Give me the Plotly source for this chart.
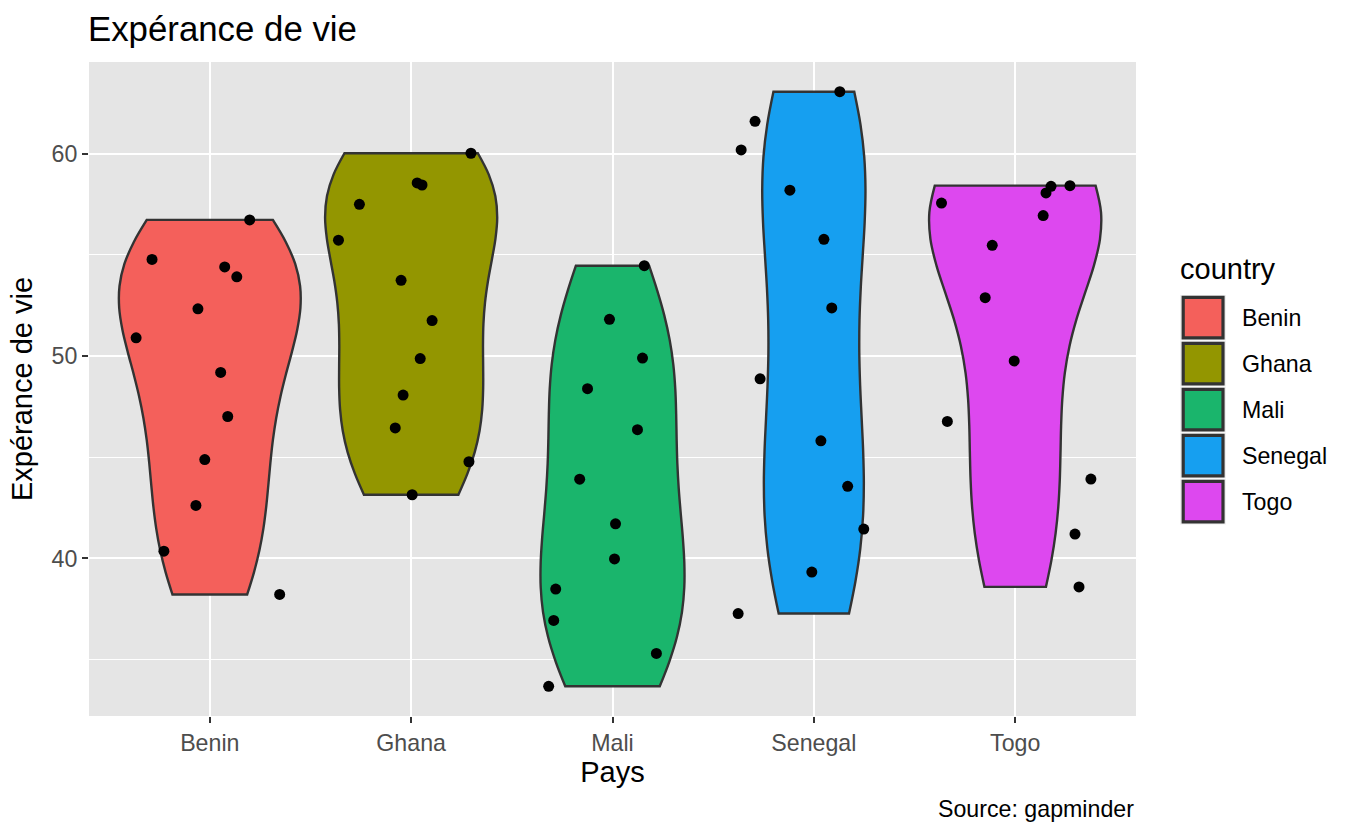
import numpy as np
import plotly.graph_objects as go

# ---------------- data (gapminder, life expectancy 1952-2007) ----------------
countries = ["Benin", "Ghana", "Mali", "Senegal", "Togo"]
years = [1952, 1957, 1962, 1967, 1972, 1977, 1982, 1987, 1992, 1997, 2002, 2007]

life_benin = [38.223, 40.358, 42.618, 44.885, 47.014, 49.190, 50.904, 52.337, 53.919, 54.777, 54.406, 56.728]
life_ghana = [43.149, 44.779, 46.452, 48.072, 49.875, 51.756, 53.744, 55.729, 57.501, 58.556, 58.453, 60.022]
life_mali = [33.685, 35.307, 36.936, 38.487, 39.977, 41.714, 43.916, 46.364, 48.388, 49.903, 51.818, 54.467]
life_senegal = [37.278, 39.329, 41.454, 43.563, 45.815, 48.879, 52.379, 55.769, 58.196, 60.187, 61.600, 63.062]
life_togo = [38.596, 41.208, 43.922, 46.769, 49.759, 52.887, 55.471, 56.941, 58.061, 58.390, 57.561, 58.420]

# horizontal jitter of each point (in category units)
jit_benin = [0.347, -0.228, -0.069, -0.025, 0.089, 0.054, -0.366, -0.059, 0.134, -0.287, 0.074, 0.198]
jit_ghana = [0.005, 0.287, -0.079, -0.040, 0.045, 0.104, -0.050, -0.361, -0.257, 0.030, 0.054, 0.297]
jit_mali = [-0.317, 0.218, -0.292, -0.282, 0.010, 0.015, -0.163, 0.124, -0.124, 0.149, -0.015, 0.158]
jit_senegal = [-0.376, -0.010, 0.248, 0.168, 0.035, -0.267, 0.089, 0.050, -0.119, -0.361, -0.292, 0.129]
jit_togo = [0.317, 0.297, 0.376, -0.337, -0.005, -0.149, -0.114, 0.139, 0.153, 0.178, -0.366, 0.272]

fill_colors = ["#F4605B", "#939600", "#1AB56C", "#169FF0", "#DD48EF"]

y_ticks = [40, 50, 60]
y_minor = [35, 45, 55]

title_text = "Expérance de vie"
x_title = "Pays"
y_title = "Expérance de vie"
legend_title = "country"
caption = "Source: gapminder"

# ---------------- layout geometry (pixels) ----------------
FIG_W, FIG_H = 1356, 838
PL, PR, PT, PB = 89, 1136, 62, 716   # plot panel edges
PW, PH = PR - PL, PB - PT
FONT = "Liberation Sans, Arial, Helvetica, sans-serif"
F_SMALL, F_MED, F_BIG = 23.2, 29, 34.8


def px_x(px):
    return (px - PL) / PW


def px_y(py):
    return (PB - py) / PH


series = [life_benin, life_ghana, life_mali, life_senegal, life_togo]
jitters = [jit_benin, jit_ghana, jit_mali, jit_senegal, jit_togo]

fig = go.Figure()

# violins (ggplot: trim=TRUE, scale="area", bw.nrd0, width 0.9)
# shared scalegroup + scalemode "width" -> common max density -> equal areas
for i, (name, vals, col) in enumerate(zip(countries, series, fill_colors)):
    v = np.asarray(vals)
    q75, q25 = np.percentile(v, [75, 25])
    bw = 0.9 * min(v.std(ddof=1), (q75 - q25) / 1.34) * len(v) ** (-0.2)
    fig.add_trace(go.Violin(
        x0=i, y=vals, name=name, orientation="v",
        fillcolor=col, line=dict(color="#333333", width=2.4),
        bandwidth=bw, spanmode="hard",
        scalegroup="all", scalemode="width",
        points=False, box_visible=False, meanline_visible=False,
        opacity=1, showlegend=False, hoverinfo="y+name",
    ))

# jittered points
for i, (name, vals, jit) in enumerate(zip(countries, series, jitters)):
    fig.add_trace(go.Scatter(
        x=[i + j for j in jit], y=vals, mode="markers", name=name,
        marker=dict(color="black", size=11, line=dict(width=0)),
        showlegend=False, hovertemplate="%{y}<extra>" + name + "</extra>",
    ))

# y range with ggplot 5% expansion
all_vals = np.concatenate([np.asarray(s) for s in series])
lo, hi = all_vals.min(), all_vals.max()
pad = 0.05 * (hi - lo)

# ---------------- manual ggplot-like legend ----------------
shapes = []
annotations = []
KEY_X0, KEY_X1 = 1180, 1226
KEY_TOP, KEY_STEP, KEY_H = 295, 46, 45.5
for i, (name, col) in enumerate(zip(countries, fill_colors)):
    t = KEY_TOP + i * KEY_STEP
    b = t + KEY_H
    shapes.append(dict(type="rect", xref="paper", yref="paper",
                       x0=px_x(KEY_X0), x1=px_x(KEY_X1), y0=px_y(b), y1=px_y(t),
                       fillcolor="#EFEFEF", line=dict(width=0), layer="above"))
    shapes.append(dict(type="rect", xref="paper", yref="paper",
                       x0=px_x(KEY_X0 + 3.2), x1=px_x(KEY_X1 - 3.0),
                       y0=px_y(b - 2.6), y1=px_y(t + 2.4),
                       fillcolor=col, line=dict(color="#333333", width=3.2), layer="above"))
    annotations.append(dict(xref="paper", yref="paper", x=px_x(1240), y=px_y((t + b) / 2),
                            xanchor="left", yanchor="middle", showarrow=False,
                            text=name, font=dict(size=F_SMALL, color="black", family=FONT)))

annotations.append(dict(xref="paper", yref="paper", x=px_x(1178), y=px_y(269),
                        xanchor="left", yanchor="middle", showarrow=False,
                        text=legend_title, font=dict(size=F_MED, color="black", family=FONT)))
annotations.append(dict(xref="paper", yref="paper", x=1.0, y=px_y(809),
                        xanchor="right", yanchor="middle", showarrow=False,
                        text=caption, font=dict(size=F_SMALL, color="black", family=FONT)))

fig.update_layout(
    width=FIG_W, height=FIG_H,
    margin=dict(l=PL, r=FIG_W - PR, t=PT, b=FIG_H - PB, pad=0, autoexpand=False),
    paper_bgcolor="white", plot_bgcolor="#E5E5E5",
    font=dict(family=FONT),
    showlegend=False,
    violinmode="overlay", violingap=0.1, violingroupgap=0,
    title=dict(text=title_text, x=(PL - 1) / FIG_W, xanchor="left", xref="container",
               y=1 - 29 / FIG_H, yanchor="middle", yref="container",
               font=dict(size=F_BIG, color="black", family=FONT)),
    xaxis=dict(range=[-0.6, len(countries) - 0.4], tickmode="array",
               tickvals=list(range(len(countries))), ticktext=countries,
               showgrid=True, gridcolor="white", gridwidth=2.4,
               zeroline=False, showline=False,
               ticks="outside", ticklen=6, tickwidth=2.4, tickcolor="#333333",
               tickfont=dict(size=F_SMALL, color="#4D4D4D", family=FONT),
               title=dict(text=x_title, font=dict(size=F_MED, color="black", family=FONT), standoff=5),
               automargin=False, fixedrange=True),
    yaxis=dict(range=[lo - pad, hi + pad], tickmode="array", tickvals=y_ticks,
               ticktext=[str(t) for t in y_ticks],
               showgrid=True, gridcolor="white", gridwidth=2.4,
               minor=dict(tickvals=y_minor, showgrid=True, gridcolor="white", gridwidth=1.2, ticks=""),
               zeroline=False, showline=False,
               ticks="outside", ticklen=6, tickwidth=2.4, tickcolor="#333333",
               tickfont=dict(size=F_SMALL, color="#4D4D4D", family=FONT),
               title=dict(text=y_title, font=dict(size=F_MED, color="black", family=FONT), standoff=10),
               automargin=False, fixedrange=True),
    shapes=shapes, annotations=annotations,
)

fig.write_html("out.html")
